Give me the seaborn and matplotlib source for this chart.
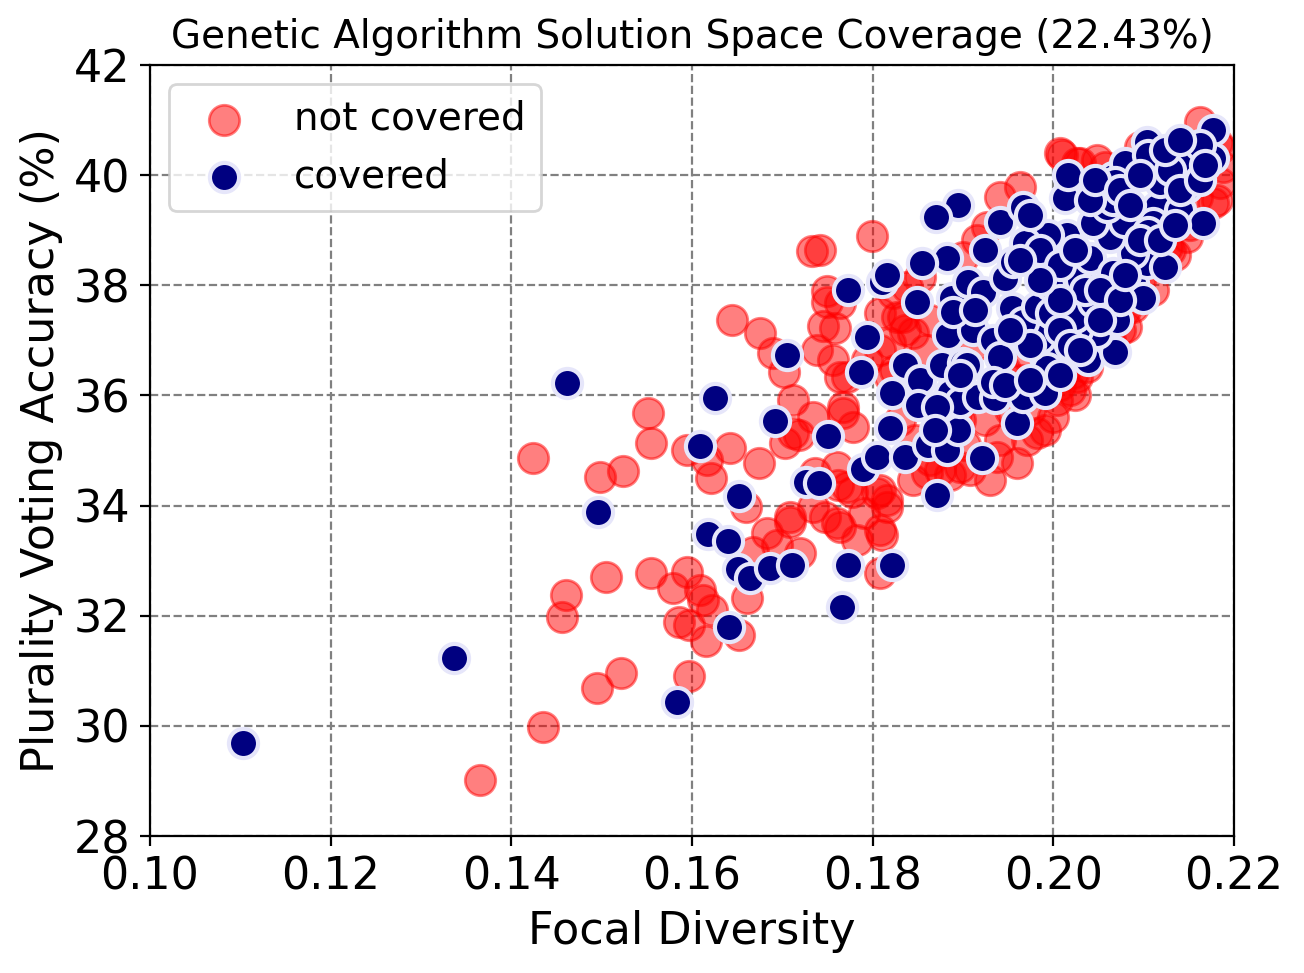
import matplotlib
matplotlib.use("Agg")
import matplotlib.pyplot as plt
import seaborn as sns

sns.set_style("white")
plt.rcParams['font.family'] = ['DejaVu Sans']
plt.rcParams['text.color'] = 'black'
plt.rcParams['axes.labelcolor'] = 'black'
plt.rcParams['xtick.color'] = 'black'
plt.rcParams['ytick.color'] = 'black'

# covered solutions (focal diversity, plurality voting accuracy %)
covered_x = [
    0.1103, 0.1337, 0.1462, 0.1496, 0.1583, 0.1609, 0.1625, 0.1618, 0.1640, 0.1652,
    0.1651, 0.1664, 0.1641, 0.1686, 0.1692, 0.1705, 0.1711, 0.1726, 0.1741, 0.1751,
    0.1766, 0.1773, 0.1773, 0.1789, 0.1794, 0.1787, 0.1810, 0.1816, 0.1821, 0.1819,
    0.1805, 0.1821, 0.1836, 0.1852, 0.1850, 0.1836, 0.1871, 0.1861, 0.1882, 0.1894,
    0.1921, 0.1960, 0.1886, 0.1897, 0.1917, 0.1935, 0.1966, 0.1991, 0.1877, 0.1900,
    0.1883, 0.1911, 0.1933, 0.1941, 0.1991, 0.1993, 0.2038, 0.2068, 0.2048, 0.1985,
    0.2026, 0.1849, 0.1888, 0.1889, 0.1954, 0.1966, 0.1982, 0.1998, 0.2024, 0.2044,
    0.2070, 0.2088, 0.2099, 0.1882, 0.1855, 0.1906, 0.1922, 0.1946, 0.1955, 0.1996,
    0.2030, 0.2041, 0.2066, 0.2104, 0.2124, 0.2088, 0.2015, 0.1994, 0.1969, 0.2063,
    0.1941, 0.1966, 0.1894, 0.1870, 0.2013, 0.2115, 0.2140, 0.2166, 0.2078, 0.2110,
    0.2044, 0.2059, 0.2016, 0.2066, 0.2118, 0.2148, 0.2079, 0.2104, 0.2105, 0.2157,
    0.2177, 0.2177, 0.2149, 0.2162, 0.1871, 0.1933, 0.1904, 0.2068, 0.2066, 0.2105,
    0.1974, 0.1985, 0.2007, 0.2024, 0.2035, 0.2052, 0.2074, 0.2079, 0.2096, 0.2118,
    0.2135, 0.2041, 0.2046, 0.2074, 0.2085, 0.2096, 0.2129, 0.2140, 0.2162, 0.2168,
    0.2124, 0.2140, 0.2007, 0.2018, 0.1974, 0.1952, 0.2007, 0.1985, 0.1963, 0.1924,
    0.1913, 0.1946, 0.1974, 0.2007, 0.2030, 0.2052, 0.1869, 0.1897,
]
covered_y = [
    29.69, 31.23, 36.23, 33.88, 30.43, 35.08, 35.95, 33.48, 33.36, 34.17,
    32.85, 32.68, 31.79, 32.87, 35.54, 36.73, 32.92, 34.43, 34.41, 35.26,
    32.16, 32.92, 37.91, 34.66, 37.06, 36.43, 38.06, 38.19, 36.04, 35.41,
    34.88, 32.92, 36.55, 36.28, 35.83, 34.88, 34.19, 35.10, 35.01, 35.37,
    34.86, 35.50, 36.04, 35.88, 35.97, 35.95, 35.97, 36.04, 36.55, 36.59,
    37.10, 37.19, 37.01, 36.70, 36.70, 36.50, 36.64, 36.79, 37.13, 37.04,
    37.19, 37.70, 37.77, 37.51, 37.59, 37.33, 37.61, 37.50, 37.42, 37.70,
    37.37, 38.04, 37.77, 38.50, 38.40, 38.06, 37.88, 38.13, 38.42, 38.01,
    38.10, 38.50, 38.22, 38.40, 38.33, 38.59, 38.91, 38.91, 38.77, 38.88,
    39.15, 39.42, 39.46, 39.24, 39.58, 39.42, 39.37, 39.13, 39.15, 39.13,
    39.13, 39.42, 40.00, 39.97, 39.88, 39.78, 40.22, 40.60, 40.37, 40.49,
    40.82, 40.31, 40.18, 40.55, 35.79, 36.24, 36.55, 39.88, 39.55, 38.97,
    39.28, 38.64, 38.37, 38.64, 37.91, 37.91, 37.73, 38.19, 38.82, 38.82,
    39.09, 39.55, 39.91, 39.73, 39.46, 40.00, 40.09, 39.73, 39.91, 40.18,
    40.46, 40.64, 37.19, 36.92, 36.92, 37.19, 37.73, 38.10, 38.46, 38.64,
    37.55, 36.19, 36.28, 36.37, 36.82, 37.37, 35.37, 36.37,
]

# solutions not covered by the genetic algorithm
not_covered_x = [
    0.1365, 0.1435, 0.1495, 0.1521, 0.1456, 0.1461, 0.1505, 0.1555, 0.1424, 0.1498,
    0.1524, 0.1551, 0.1555, 0.1594, 0.1617, 0.1621, 0.1642, 0.1674, 0.1644, 0.1675,
    0.1690, 0.1702, 0.1712, 0.1703, 0.1718, 0.1733, 0.1799, 0.1749, 0.1745, 0.1758,
    0.1738, 0.1660, 0.1683, 0.1709, 0.1720, 0.1668, 0.1694, 0.1661, 0.1579, 0.1594,
    0.1609, 0.1612, 0.1622, 0.1586, 0.1597, 0.1616, 0.1652, 0.1597, 0.1736, 0.1734,
    0.1747, 0.1764, 0.1783, 0.1790, 0.1810, 0.1808, 0.1762, 0.1777, 0.1767, 0.1778,
    0.1808, 0.1816, 0.1756, 0.1764, 0.1734, 0.1712, 0.1767, 0.1772, 0.1760, 0.1808,
    0.1709, 0.1845, 0.1860, 0.1897, 0.1960, 0.1971, 0.2000, 0.1982, 0.1938, 0.2007,
    0.2026, 0.1819, 0.1834, 0.1808, 0.1845, 0.1819, 0.1808, 0.1764, 0.1749, 0.1913,
    0.1946, 0.1963, 0.1924, 0.1941, 0.1952, 0.1897, 0.1875, 0.1902, 0.1886, 0.1863,
    0.1930, 0.1974, 0.2007, 0.2041, 0.2052, 0.2013, 0.2074, 0.1742, 0.1794, 0.1827,
    0.1838, 0.1822, 0.1852, 0.1900, 0.1915, 0.1927, 0.1941, 0.1963, 0.2007, 0.2026,
    0.2048, 0.2162, 0.2181, 0.2185, 0.2181, 0.2188, 0.2148, 0.2129, 0.2096, 0.2110,
    0.2088, 0.2081, 0.2063, 0.2037, 0.2022, 0.2004, 0.1816, 0.1760, 0.1805, 0.2185,
    0.2177, 0.2010, 0.2030, 0.2057, 0.2096, 0.2133, 0.2126, 0.2159, 0.2151, 0.2135,
    0.2079, 0.2046, 0.2018, 0.1991, 0.1772, 0.1863, 0.1858, 0.1836, 0.1825, 0.1830,
    0.1847, 0.1875, 0.1908, 0.1974, 0.2024,
]
not_covered_y = [
    29.02, 29.98, 30.69, 30.96, 31.98, 32.38, 32.70, 32.78, 34.86, 34.52,
    34.63, 35.68, 35.14, 35.01, 34.83, 34.50, 35.05, 34.77, 37.37, 37.13,
    36.77, 36.43, 35.92, 35.14, 35.28, 38.62, 38.89, 37.90, 37.26, 37.22,
    36.82, 33.97, 33.50, 33.70, 33.14, 33.16, 33.28, 32.32, 32.50, 32.79,
    32.47, 32.29, 32.10, 31.89, 31.83, 31.54, 31.65, 30.91, 34.59, 33.97,
    33.79, 33.61, 33.37, 33.86, 33.47, 32.78, 34.37, 34.25, 35.68, 35.43,
    34.28, 33.97, 36.64, 36.33, 35.61, 35.32, 35.79, 34.34, 33.68, 33.56,
    33.79, 34.46, 34.59, 34.70, 34.77, 35.19, 35.61, 35.32, 34.88, 36.19,
    36.33, 36.95, 37.42, 37.50, 37.13, 36.33, 36.82, 37.68, 37.70, 36.92,
    36.46, 36.28, 35.55, 35.19, 35.74, 35.55, 34.65, 35.10, 34.56, 34.83,
    34.46, 36.64, 36.92, 37.10, 36.92, 36.46, 37.19, 38.64, 36.64, 37.42,
    37.97, 37.86, 38.15, 38.51, 38.82, 39.06, 39.60, 39.78, 40.40, 40.22,
    40.27, 40.96, 40.58, 39.86, 39.55, 40.15, 38.88, 38.64, 38.10, 37.91,
    37.61, 37.24, 37.01, 36.52, 36.41, 35.92, 34.10, 34.70, 34.23, 40.49,
    39.49, 40.37, 40.22, 40.15, 40.51, 40.46, 38.70, 39.60, 39.10, 38.55,
    37.55, 36.82, 36.10, 35.37, 36.33, 37.37, 36.82, 37.19, 36.46, 35.55,
    35.19, 35.55, 34.65, 35.74, 36.01,
]

coverage = 22.43

fig, ax = plt.subplots(figsize=(6.52, 4.865), dpi=200)
fig.subplots_adjust(left=0.115, right=0.9463, top=0.9332, bottom=0.1408)

sns.scatterplot(x=not_covered_x, y=not_covered_y, color="red", alpha=0.5,
                edgecolor="red", linewidth=1, s=120, label="not covered", ax=ax)
sns.scatterplot(x=covered_x, y=covered_y, color="navy", edgecolor="lavender",
                linewidth=1.5, s=110, label="covered", ax=ax)

ax.set_xlim(0.10, 0.22)
ax.set_ylim(28, 42)
ax.set_xticks([0.10, 0.12, 0.14, 0.16, 0.18, 0.20, 0.22])
ax.set_yticks([28, 30, 32, 34, 36, 38, 40, 42])
ax.tick_params(axis="both", labelsize=16, direction="out", length=3.5, width=0.8,
               bottom=True, left=True)
ax.grid(True, linestyle="--", color="gray", linewidth=0.8)
ax.set_axisbelow(True)
for sp in ax.spines.values():
    sp.set_color("black")
    sp.set_linewidth(0.8)

ax.set_xlabel("Focal Diversity", fontsize=16)
ax.set_ylabel("Plurality Voting Accuracy (%)", fontsize=16)
ax.set_title(f"Genetic Algorithm Solution Space Coverage ({coverage}%)", fontsize=14)
ax.legend(loc="upper left", fontsize=14)

fig.savefig("out.png", dpi=200)
